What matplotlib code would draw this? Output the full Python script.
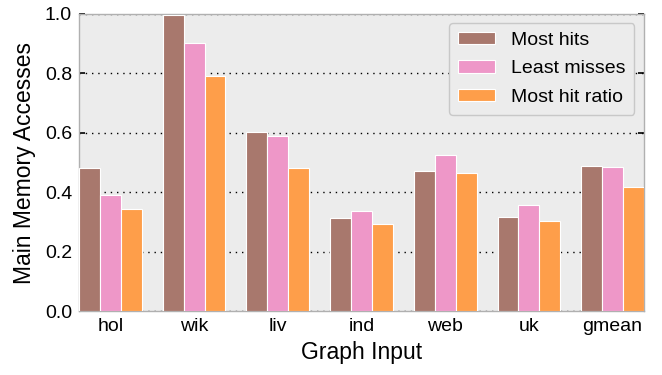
import matplotlib
matplotlib.use("Agg")
import matplotlib.pyplot as plt
import numpy as np

categories = ["hol", "wik", "liv", "ind", "web", "uk", "gmean"]
series_names = ["Most hits", "Least misses", "Most hit ratio"]
most_hits = [0.481, 0.995, 0.604, 0.314, 0.471, 0.318, 0.489]
least_misses = [0.390, 0.903, 0.589, 0.337, 0.526, 0.357, 0.486]
most_hit_ratio = [0.342, 0.792, 0.481, 0.294, 0.464, 0.302, 0.419]
colors = ["#a8786d", "#ee97c8", "#fe9e4a"]
yticks = [0.0, 0.2, 0.4, 0.6, 0.8, 1.0]

plt.rcParams['font.family'] = ['Liberation Sans', 'DejaVu Sans']

fig = plt.figure(figsize=(6.62, 3.75), dpi=100)
ax = fig.add_axes([79/662, 1 - 311/375, (644-79)/662, (311-14)/375])
ax.set_facecolor("#ececec")

x = np.arange(len(categories))
w = 0.25
for i, (vals, name) in enumerate(zip([most_hits, least_misses, most_hit_ratio], series_names)):
    ax.bar(x + (i - 1) * w, vals, width=w, color=colors[i], edgecolor="white",
           linewidth=0.8, label=name, zorder=3)

ax.set_xlim(-0.375, len(categories) - 1 + 0.375)
ax.set_ylim(0, 1.0)
ax.set_yticks(yticks)
ax.set_yticklabels([f"{v:.1f}" for v in yticks], fontsize=14)
ax.set_xticks(x)
ax.set_xticklabels(categories, fontsize=14)
ax.tick_params(axis='x', length=0, pad=5)
ax.tick_params(axis='y', direction='in', length=4, width=1.2, color='black',
               right=True, pad=5)
ax.yaxis.grid(True, linestyle=(0, (1, 3.5)), color='black', linewidth=1.0, zorder=1)
ax.set_axisbelow(True)
for s in ax.spines.values():
    s.set_color("#b0b0b0")
    s.set_linewidth(1.0)

ax.set_ylabel("Main Memory Accesses", fontsize=16.5, labelpad=6)
ax.set_xlabel("Graph Input", fontsize=16.5, labelpad=4)

leg = ax.legend(loc='upper right', fontsize=14, frameon=True, fancybox=True,
                facecolor="#ececec", edgecolor="#c8c8c8", framealpha=1,
                handlelength=1.9, handleheight=0.6, handletextpad=0.85,
                borderpad=0.45, labelspacing=0.6, borderaxespad=0,
                bbox_to_anchor=(0.983, 0.97))

fig.savefig("out.png", dpi=100)
